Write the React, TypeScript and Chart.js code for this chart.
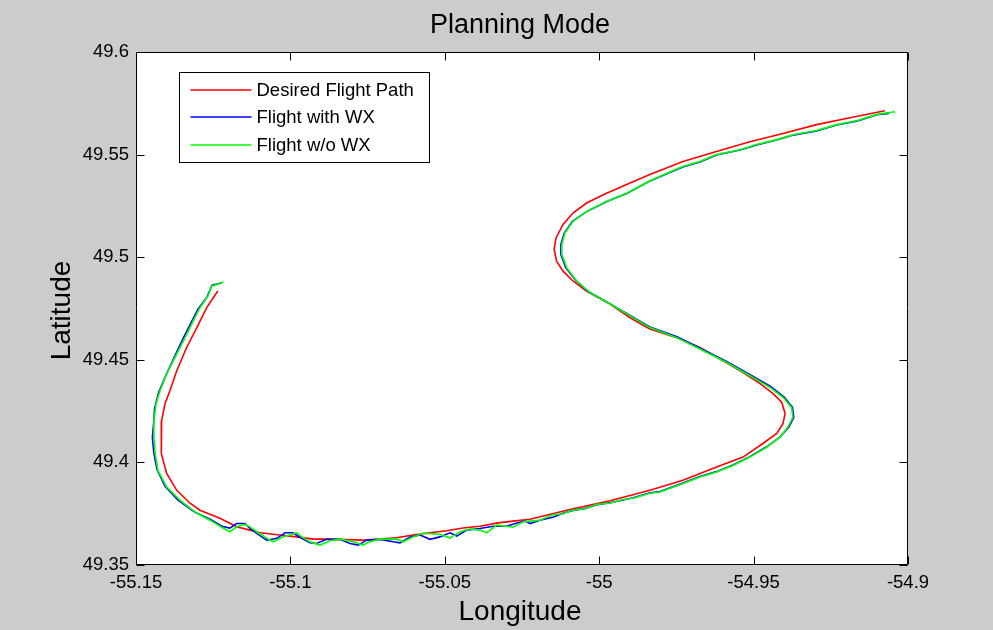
import React, { useEffect, useRef } from 'react';
import { Chart, registerables } from 'chart.js';

Chart.register(...registerables);

// ---------- data (longitude, latitude) ----------
const desiredPath: number[][] = [
  [-55.1235, 49.4835], [-55.1271, 49.4754], [-55.1303, 49.4657], [-55.1336, 49.456],
  [-55.1368, 49.4447], [-55.139, 49.435], [-55.1406, 49.4286], [-55.1417, 49.4204],
  [-55.1419, 49.4123], [-55.1417, 49.4044], [-55.1401, 49.3947], [-55.1368, 49.3864],
  [-55.1325, 49.3801], [-55.1293, 49.3767], [-55.1228, 49.3728], [-55.1174, 49.3686],
  [-55.1131, 49.367], [-55.1098, 49.3657], [-55.1034, 49.3646], [-55.098, 49.3637],
  [-55.0927, 49.3626], [-55.0872, 49.3626], [-55.0765, 49.3621], [-55.071, 49.3626],
  [-55.0656, 49.3633], [-55.0603, 49.3646], [-55.0548, 49.3657], [-55.0494, 49.3667],
  [-55.0441, 49.368], [-55.0386, 49.3689], [-55.0332, 49.3704], [-55.0279, 49.3714],
  [-55.0224, 49.3723], [-55.0095, 49.377], [-54.9965, 49.3813], [-54.9836, 49.3864],
  [-54.9729, 49.3913], [-54.962, 49.3977], [-54.9534, 49.4026], [-54.947, 49.4092],
  [-54.9425, 49.4141], [-54.9405, 49.4189], [-54.9398, 49.4238], [-54.9409, 49.4293],
  [-54.9437, 49.4335], [-54.9479, 49.4384], [-54.9534, 49.4438], [-54.9599, 49.4495],
  [-54.9674, 49.456], [-54.9749, 49.4608], [-54.9836, 49.465], [-54.99, 49.4705],
  [-54.9965, 49.4772], [-55.0041, 49.4835], [-55.0085, 49.4884], [-55.0117, 49.4932],
  [-55.0138, 49.4981], [-55.0146, 49.5039], [-55.014, 49.5094], [-55.0117, 49.516],
  [-55.0085, 49.5215], [-55.0041, 49.5264], [-54.9976, 49.5312], [-54.9911, 49.5354],
  [-54.9836, 49.5403], [-54.9729, 49.5466], [-54.962, 49.5515], [-54.9512, 49.5563],
  [-54.9405, 49.5603], [-54.9296, 49.5646], [-54.9188, 49.568], [-54.9075, 49.5714],
];

const flightWithWx: number[][] = [
  [-55.1222, 49.4875], [-55.1254, 49.4864], [-55.127, 49.4806], [-55.1299, 49.4748],
  [-55.1322, 49.468], [-55.1348, 49.4602], [-55.1374, 49.4519], [-55.1404, 49.4422],
  [-55.1427, 49.434], [-55.144, 49.4262], [-55.1443, 49.4189], [-55.1447, 49.4121],
  [-55.1442, 49.4044], [-55.1432, 49.3966], [-55.1406, 49.3884], [-55.1364, 49.3816],
  [-55.1309, 49.3757], [-55.126, 49.3723], [-55.1222, 49.3689], [-55.1196, 49.368],
  [-55.1174, 49.3702], [-55.1147, 49.3702], [-55.1131, 49.3678], [-55.1109, 49.3654],
  [-55.1077, 49.3621], [-55.1044, 49.363], [-55.1017, 49.3657], [-55.0992, 49.3657],
  [-55.0963, 49.363], [-55.0937, 49.3608], [-55.0915, 49.3605], [-55.0883, 49.3625],
  [-55.0839, 49.3625], [-55.0807, 49.3605], [-55.078, 49.3597], [-55.0753, 49.3621],
  [-55.071, 49.3625], [-55.0667, 49.3613], [-55.0645, 49.3608], [-55.0613, 49.3637],
  [-55.058, 49.3646], [-55.0548, 49.3625], [-55.0516, 49.3637], [-55.0483, 49.3657],
  [-55.0461, 49.3641], [-55.0429, 49.367], [-55.0386, 49.3678], [-55.0343, 49.3689],
  [-55.03, 49.3689], [-55.0267, 49.3705], [-55.024, 49.3714], [-55.0224, 49.3702],
  [-55.0192, 49.3718], [-55.015, 49.3733], [-55.0117, 49.3752], [-55.0088, 49.3765],
  [-55.0046, 49.3776], [-55.0007, 49.3794], [-54.9965, 49.3803], [-54.9926, 49.3816],
  [-54.9884, 49.383], [-54.9836, 49.3852], [-54.9803, 49.3858], [-54.9729, 49.3899],
  [-54.9674, 49.3931], [-54.962, 49.3955], [-54.9567, 49.3987], [-54.9512, 49.4028],
  [-54.9458, 49.4076], [-54.9415, 49.4123], [-54.9386, 49.4171], [-54.937, 49.422],
  [-54.9374, 49.4268], [-54.9402, 49.432], [-54.9445, 49.437], [-54.951, 49.4426],
  [-54.9586, 49.4491], [-54.9673, 49.4557], [-54.9748, 49.4612], [-54.9836, 49.466],
  [-54.99, 49.4716], [-54.9966, 49.4774], [-55.0032, 49.4829], [-55.0075, 49.4885],
  [-55.0108, 49.4948], [-55.0124, 49.5013], [-55.0124, 49.5062], [-55.0113, 49.5118],
  [-55.0087, 49.5175], [-55.0042, 49.5221], [-54.9977, 49.527], [-54.9911, 49.531],
  [-54.9841, 49.5367], [-54.9781, 49.5407], [-54.9729, 49.544], [-54.9674, 49.5464],
  [-54.962, 49.5498], [-54.9544, 49.5522], [-54.949, 49.5547], [-54.9425, 49.5571],
  [-54.9372, 49.5595], [-54.9296, 49.5615], [-54.9231, 49.5644], [-54.9166, 49.5663],
  [-54.9101, 49.5694], [-54.9062, 49.5701],
];

const flightWithoutWx: number[][] = [
  [-55.1217, 49.4879], [-55.1255, 49.4859], [-55.1267, 49.4811], [-55.1293, 49.4754],
  [-55.1315, 49.4689], [-55.1341, 49.4608], [-55.1368, 49.4529], [-55.1401, 49.4432],
  [-55.1422, 49.435], [-55.1435, 49.4286], [-55.1442, 49.4204], [-55.1442, 49.4123],
  [-55.1438, 49.4044], [-55.1429, 49.3961], [-55.1401, 49.388], [-55.1358, 49.3816],
  [-55.1303, 49.3752], [-55.126, 49.3718], [-55.1218, 49.368], [-55.1196, 49.3662],
  [-55.1174, 49.3686], [-55.1147, 49.3698], [-55.1131, 49.3686], [-55.1109, 49.3662],
  [-55.1077, 49.3631], [-55.1056, 49.3613], [-55.1024, 49.3637], [-55.098, 49.3657],
  [-55.0963, 49.3637], [-55.0937, 49.3613], [-55.0904, 49.3597], [-55.0872, 49.3618],
  [-55.0839, 49.3626], [-55.0797, 49.3613], [-55.0765, 49.3597], [-55.0742, 49.3613],
  [-55.071, 49.3626], [-55.0656, 49.3626], [-55.0635, 49.3613], [-55.0603, 49.3637],
  [-55.0571, 49.3655], [-55.0516, 49.365], [-55.0483, 49.3631], [-55.0451, 49.3662],
  [-55.0418, 49.3675], [-55.0386, 49.367], [-55.0364, 49.3657], [-55.0332, 49.3694],
  [-55.03, 49.3689], [-55.0279, 49.3684], [-55.0247, 49.371], [-55.0224, 49.3714],
  [-55.0192, 49.3718], [-55.015, 49.3745], [-55.0117, 49.375], [-55.0088, 49.3767],
  [-55.0046, 49.3774], [-55.0007, 49.3796], [-54.9965, 49.3801], [-54.9926, 49.3818],
  [-54.9884, 49.3828], [-54.9836, 49.385], [-54.9803, 49.3856], [-54.9729, 49.3897],
  [-54.9674, 49.3929], [-54.962, 49.3953], [-54.9567, 49.3985], [-54.9512, 49.4026],
  [-54.9458, 49.4074], [-54.9415, 49.4123], [-54.9389, 49.4171], [-54.9373, 49.422],
  [-54.9377, 49.4268], [-54.9405, 49.4317], [-54.9447, 49.4366], [-54.9512, 49.4422],
  [-54.9587, 49.4487], [-54.9674, 49.4553], [-54.9749, 49.4608], [-54.9836, 49.4657],
  [-54.99, 49.4714], [-54.9965, 49.4772], [-55.003, 49.4827], [-55.0073, 49.4884],
  [-55.0105, 49.4948], [-55.0121, 49.5013], [-55.0121, 49.5062], [-55.0111, 49.5118],
  [-55.0085, 49.5175], [-55.0041, 49.5223], [-54.9976, 49.5272], [-54.9911, 49.5312],
  [-54.9841, 49.5369], [-54.9781, 49.5409], [-54.9729, 49.5442], [-54.9674, 49.5466],
  [-54.962, 49.55], [-54.9544, 49.5524], [-54.949, 49.5549], [-54.9425, 49.5573],
  [-54.9372, 49.5597], [-54.9296, 49.5617], [-54.9231, 49.5646], [-54.9166, 49.5665],
  [-54.9101, 49.5696], [-54.9042, 49.5709],
];

const xTickValues = [-55.15, -55.1, -55.05, -55, -54.95, -54.9];
const yTickValues = [49.35, 49.4, 49.45, 49.5, 49.55, 49.6];
const seriesNames = ['Desired Flight Path', 'Flight with WX', 'Flight w/o WX'];
const seriesColors = ['#ff0000', '#0000ff', '#00ff00'];
const titleText = 'Planning Mode';
const xTitleText = 'Longitude';
const yTitleText = 'Latitude';

const FONT = '"Liberation Sans", Arial, Helvetica, sans-serif';

const fmt = (v: number) => String(Number(Number(v).toFixed(2)));

const framePlugin = {
  id: 'matlabFrame',
  beforeDraw(chart: any) {
    const { ctx, chartArea: a } = chart;
    ctx.save();
    ctx.fillStyle = '#ffffff';
    ctx.fillRect(a.left, a.top, a.right - a.left, a.bottom - a.top);
    ctx.restore();
  },
  afterDatasetsDraw(chart: any) {
    const { ctx, chartArea: a, scales } = chart;
    const L = Math.round(a.left) + 0.5;
    const R = Math.round(a.right) - 0.5;
    const T = Math.round(a.top) + 0.5;
    const B = Math.round(a.bottom) - 0.5;
    ctx.save();
    ctx.strokeStyle = '#000000';
    ctx.lineWidth = 1;
    ctx.beginPath();
    ctx.rect(L, T, R - L, B - T);
    const tl = 8;
    xTickValues.forEach((v) => {
      const px = Math.round(scales.x.getPixelForValue(v)) + 0.5;
      ctx.moveTo(px, B);
      ctx.lineTo(px, B - tl);
      ctx.moveTo(px, T);
      ctx.lineTo(px, T + tl);
    });
    yTickValues.forEach((v) => {
      const py = Math.round(scales.y.getPixelForValue(v)) + 0.5;
      ctx.moveTo(L, py);
      ctx.lineTo(L + tl, py);
      ctx.moveTo(R, py);
      ctx.lineTo(R - tl, py);
    });
    ctx.stroke();
    ctx.restore();

    // legend box
    const bx = Math.round(a.left) + 43.5;
    const by = Math.round(a.top) + 20.5;
    const bw = 250;
    const bh = 90;
    ctx.save();
    ctx.fillStyle = '#ffffff';
    ctx.fillRect(bx, by, bw, bh);
    ctx.lineWidth = 1;
    ctx.strokeStyle = '#000000';
    ctx.strokeRect(bx, by, bw, bh);
    ctx.restore();
    seriesNames.forEach((name, i) => {
      const y = Math.round(by + 17 + i * 27.5);
      ctx.save();
      ctx.beginPath();
      ctx.lineWidth = 1.5;
      ctx.strokeStyle = seriesColors[i];
      ctx.moveTo(bx + 11, y);
      ctx.lineTo(bx + 72, y);
      ctx.stroke();
      ctx.restore();
      ctx.save();
      ctx.font = `18.5px ${FONT}`;
      ctx.textBaseline = 'middle';
      ctx.textAlign = 'left';
      ctx.fillStyle = '#000000';
      ctx.fillText(name, bx + 77, y + 1);
      ctx.restore();
    });
  },
  afterDraw(chart: any) {
    const { ctx, chartArea: a } = chart;
    const cx = (a.left + a.right) / 2 - 2;
    ctx.save();
    ctx.fillStyle = '#000000';
    ctx.textAlign = 'center';
    ctx.textBaseline = 'alphabetic';
    ctx.font = `27px ${FONT}`;
    ctx.fillText(titleText, cx, 33);
    ctx.font = `28px ${FONT}`;
    ctx.fillText(xTitleText, cx, 620);
    ctx.translate(70, (a.top + a.bottom) / 2 + 2);
    ctx.rotate(-Math.PI / 2);
    ctx.fillText(yTitleText, 0, 0);
    ctx.restore();
  },
};

export default function App() {
  const ref = useRef<HTMLCanvasElement | null>(null);

  useEffect(() => {
    if (!ref.current) return;
    const toPts = (arr: number[][]) => arr.map(([x, y]) => ({ x, y }));
    const sources = [desiredPath, flightWithWx, flightWithoutWx];
    const orders = [2, 1, 0];
    const chart = new Chart(ref.current, {
      type: 'scatter',
      data: {
        datasets: sources.map((src, i) => ({
          label: seriesNames[i],
          data: toPts(src),
          showLine: true,
          borderColor: seriesColors[i],
          backgroundColor: seriesColors[i],
          borderWidth: 1.6,
          pointRadius: 0,
          pointHoverRadius: 0,
          tension: 0,
          fill: false,
          order: orders[i],
        })),
      },
      options: {
        responsive: false,
        animation: false,
        events: [],
        layout: { padding: { left: 0, top: 52, right: 85, bottom: 0 } },
        plugins: {
          legend: { display: false },
          title: { display: false },
          tooltip: { enabled: false },
        },
        scales: {
          x: {
            type: 'linear',
            min: -55.15,
            max: -54.9,
            grid: { display: false, drawTicks: false },
            border: { display: false },
            ticks: {
              padding: 7,
              color: '#000000',
              font: { family: FONT, size: 18.5 },
              maxRotation: 0,
              autoSkip: false,
              callback: (v: any) => fmt(v),
            },
            afterBuildTicks: (s: any) => {
              s.ticks = xTickValues.map((v) => ({ value: v }));
            },
            afterFit: (s: any) => {
              s.height = 65;
            },
          },
          y: {
            type: 'linear',
            min: 49.35,
            max: 49.6,
            grid: { display: false, drawTicks: false },
            border: { display: false },
            ticks: {
              padding: 7,
              color: '#000000',
              font: { family: FONT, size: 18.5 },
              autoSkip: false,
              callback: (v: any) => fmt(v),
            },
            afterBuildTicks: (s: any) => {
              s.ticks = yTickValues.map((v) => ({ value: v }));
            },
            afterFit: (s: any) => {
              s.width = 136;
            },
          },
        },
      } as any,
      plugins: [framePlugin],
    });
    return () => chart.destroy();
  }, []);

  return (
    <div
      style={{
        position: 'fixed',
        left: 0,
        top: 0,
        width: 993,
        height: 630,
        background: '#cccccc',
      }}
    >
      <canvas ref={ref} width={993} height={630} style={{ display: 'block' }} />
    </div>
  );
}
